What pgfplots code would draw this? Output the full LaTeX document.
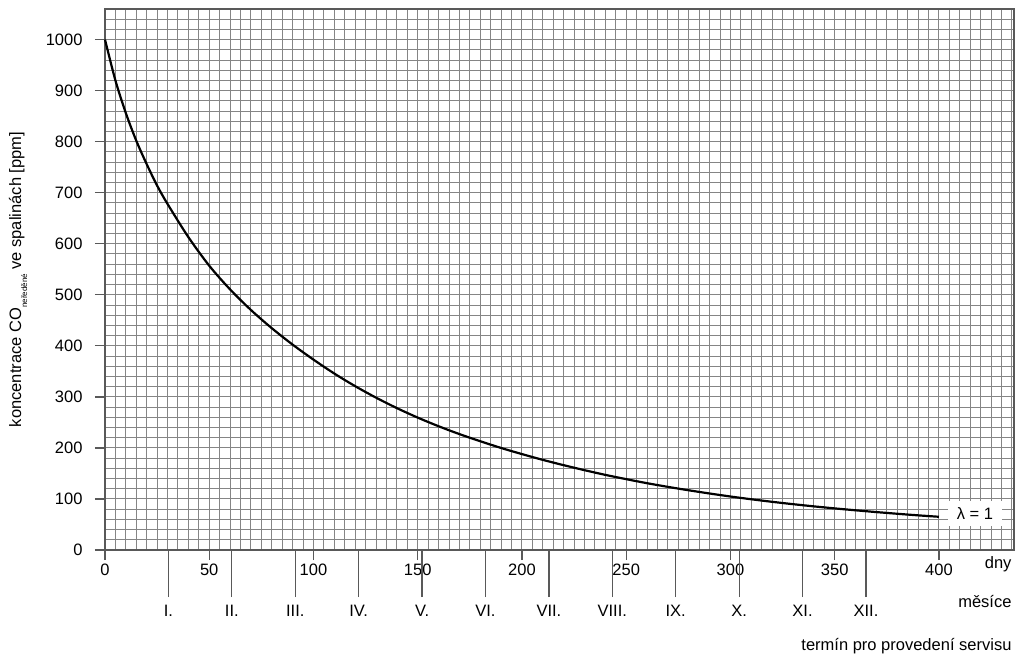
\documentclass[border=0pt]{standalone}
\usepackage{fontspec}
\setmainfont{Liberation Sans}
\usepackage{pgfplots}
\pgfplotsset{compat=1.18}
\newcommand{\fs}{\fontsize{16.5}{19}\selectfont}
\begin{document}
\begin{tikzpicture}
\begin{axis}[
  scale only axis, width=909pt, height=541pt,
  xmin=0, xmax=436, ymin=0, ymax=1060,
  xtick={0,50,...,400}, ytick={0,100,...,1000},
  minor xtick={0,5,...,435}, minor ytick={0,20,...,1060},
  grid=both,
  major grid style={black!48, line width=1pt},
  minor grid style={black!48, line width=1pt},
  tick align=outside, xtick pos=bottom, ytick pos=left,
  major tick length=10pt, minor tick length=0pt,
  every tick/.style={black!65, line width=1.3pt},
  axis line style={black!65, line width=1.5pt},
  tick label style={font=\fs},
  yticklabel style={xshift=-9pt},
  /pgf/number format/assume math mode=true,
  /pgf/number format/1000 sep={},
  extra x ticks={30.417,60.833,91.25,121.667,152.083,182.5,212.917,243.333,273.75,304.167,334.583,365},
  extra x tick labels={I.,II.,III.,IV.,V.,VI.,VII.,VIII.,IX.,X.,XI.,XII.},
  extra x tick style={grid=none, major tick length=47pt, tick label style={yshift=-5pt}},
  ylabel={koncentrace CO\raisebox{-6pt}{\fontsize{8}{9}\selectfont neředěné} ve spalinách [ppm]},
  ylabel style={at={([xshift=-87pt]rel axis cs:0,0.5)}, anchor=center, font=\fs},
  clip=false,
]
\addplot[black, line width=2.2pt, smooth] table {
x y
0 1000
5 920
10 856
15 802
20 756
25 714
30 678
40 613
50 557
60 510.6
70 470.2
80 434.6
90 402.4
100 373
110 345.7
120 321
130 298.5
140 278
150 259.4
160 242.5
170 227.1
180 213.1
190 199.9
200 187.9
210 176.6
220 166.2
230 156.4
240 147.2
250 138.8
260 130.9
270 123.7
280 117
290 110.7
300 104.8
310 99.4
320 94.4
330 89.8
340 85.5
350 81.5
360 77.8
370 74.3
380 71
390 67.9
400 65.1
};
\node[fill=white, inner xsep=9pt, inner ysep=7pt, font=\fs] at (axis cs:417.3,71.5) {λ = 1};
\node[anchor=base east, font=\fs] at ([xshift=1pt,yshift=-18pt]rel axis cs:1,0) {dny};
\node[anchor=base east, font=\fs] at ([xshift=1pt,yshift=-57pt]rel axis cs:1,0) {měsíce};
\node[anchor=base east, font=\fs] at ([xshift=1pt,yshift=-100pt]rel axis cs:1,0) {termín pro provedení servisu};
\path ([xshift=-105pt,yshift=-113pt]rel axis cs:0,0) rectangle ([xshift=9pt,yshift=9pt]rel axis cs:1,1);
\end{axis}
\end{tikzpicture}
\end{document}
